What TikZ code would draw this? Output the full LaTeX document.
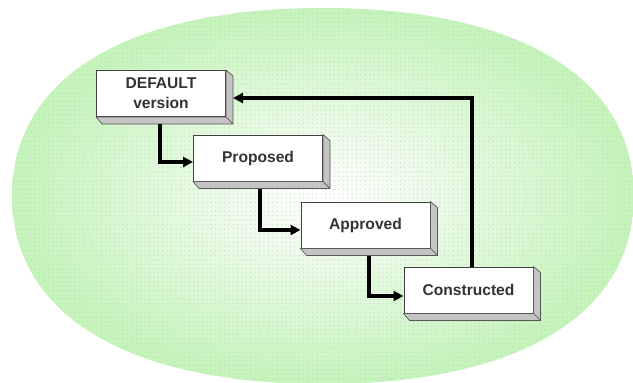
\documentclass[tikz,border=0pt]{standalone}
\usepackage{fontspec}
\setmainfont{Liberation Sans}
\usetikzlibrary{arrows.meta,calc,patterns.meta}
\definecolor{bggreen}{RGB}{196,244,186}
\definecolor{facegray}{RGB}{196,196,196}
\begin{document}
\begin{tikzpicture}[x=1pt,y=-1pt,
  stagebox/.style={draw=black!75, line width=1pt, fill=white,
    minimum width=129pt, minimum height=46pt, inner sep=0pt, align=center,
    font=\fontsize{15.6}{20}\selectfont\bfseries, text=black!80},
  conn/.style={line width=3.2pt, -{Triangle[length=10pt,width=10pt]}},
  sideface/.style={fill=facegray, draw=black!65, line width=0.7pt, line join=round}]
\useasboundingbox (0,0) rectangle (633,383);
% background oval
\def\oval{(634,196) .. controls (634,314.4) and (519,384) .. (323,384)
  .. controls (127,384) and (12,314.4) .. (12,196)
  .. controls (12,77.6) and (127,8) .. (323,8)
  .. controls (519,8) and (634,77.6) .. (634,196) -- cycle}
\shade[inner color=white, outer color=bggreen] \oval;
\pattern[pattern={Dots[radius=0.55pt,distance=4.4pt]}, pattern color=black!22] \oval;
% stage boxes (front faces)
\node[stagebox] (def) at (161,93.5) {DEFAULT\\version};
\node[stagebox] (prop) at (258,158) {Proposed};
\node[stagebox] (app) at (365.5,225) {Approved};
\node[stagebox] (con) at (468.5,290) {Constructed};
% extruded side faces
\foreach \n in {def,prop,app,con}{
  \draw[sideface] (\n.north east) -- ([xshift=7pt,yshift=-6pt]\n.north east)
     -- ([xshift=7pt,yshift=-7pt]\n.south east) -- (\n.south east) -- cycle;
  \draw[sideface] (\n.south west) -- ([xshift=6pt,yshift=-7pt]\n.south west)
     -- ([xshift=7pt,yshift=-7pt]\n.south east) -- (\n.south east) -- cycle;
}
% connectors
\draw[conn] ([xshift=-1pt,yshift=-7pt]def.south) |- ([yshift=-4pt]prop.west);
\draw[conn] ([xshift=2pt,yshift=-7pt]prop.south) |- ([yshift=-5pt]app.west);
\draw[conn] ([xshift=3.5pt,yshift=-7pt]app.south) |- ([yshift=-6pt]con.west);
\draw[conn] ([xshift=3.5pt]con.north) |- ([xshift=7pt,yshift=-4.5pt]def.east);
\end{tikzpicture}
\end{document}
